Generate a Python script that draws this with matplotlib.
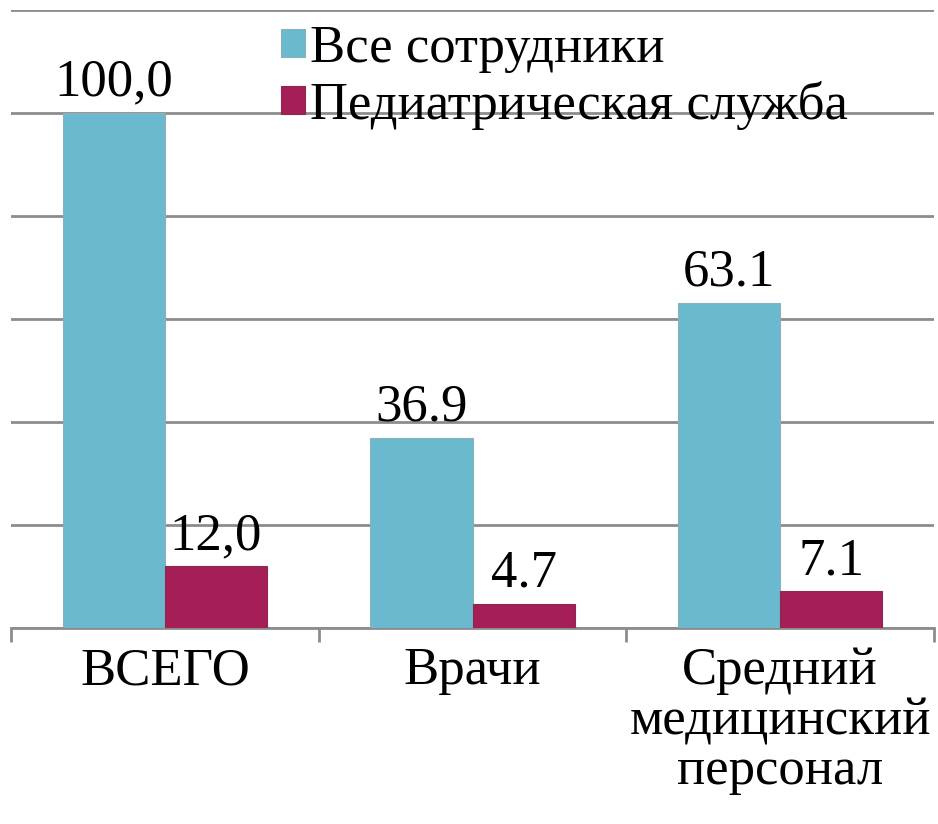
import os
import matplotlib
matplotlib.use("Agg")
import matplotlib.pyplot as plt
from matplotlib.font_manager import FontProperties
import numpy as np

categories = ["ВСЕГО", "Врачи", "Средний\nмедицинский\nперсонал"]
series_names = ["Все сотрудники", "Педиатрическая служба"]
all_staff = [100.0, 36.9, 63.1]
pediatric = [12.0, 4.7, 7.1]
all_labels = ["100,0", "36.9", "63.1"]
ped_labels = ["12,0", "4.7", "7.1"]
colors = ["#6BB9CE", "#A51E55"]

FPATH = "/usr/share/fonts/truetype/liberation/LiberationSerif-Regular.ttf"
def fp(size):
    if os.path.exists(FPATH):
        return FontProperties(fname=FPATH, size=size)
    return FontProperties(family="Liberation Serif", size=size)

fig = plt.figure(figsize=(9.38, 8.24), dpi=100)
ax = fig.add_axes([11/938, 1-628/824, 923/938, 618/824])

x = np.arange(len(categories))
w = 0.332
b1 = ax.bar(x - w/2, all_staff, w, color=colors[0], edgecolor="#8FAFB8", linewidth=0.8, label=series_names[0], zorder=3)
b2 = ax.bar(x + w/2, pediatric, w, color=colors[1], edgecolor="#8A2A50", linewidth=0.8, label=series_names[1], zorder=3)

for bars, labs in ((b1, all_labels), (b2, ped_labels)):
    for rect, lab in zip(bars, labs):
        ax.text(rect.get_x() + rect.get_width()/2, rect.get_height() + 1.2, lab,
                ha="center", va="bottom", color="black", zorder=4, fontproperties=fp(38))

ax.set_xlim(-0.5, 2.5)
ax.set_ylim(0, 120)
ax.set_yticks(np.arange(0, 121, 20))
ax.yaxis.grid(True, color="#8C8C8C", linewidth=2, zorder=0)
ax.set_axisbelow(True)
ax.tick_params(axis="y", left=False, labelleft=False)
for s in ["top", "right", "left"]:
    ax.spines[s].set_visible(False)
ax.spines["bottom"].set_color("#8C8C8C")
ax.spines["bottom"].set_linewidth(2)

ax.set_xticks([-0.5, 0.5, 1.5, 2.5])
ax.set_xticklabels([])
ax.tick_params(axis="x", length=10, width=2, color="#8C8C8C", direction="out")
ax.set_xticks(x, minor=True)
ax.set_xticklabels(categories, minor=True, fontproperties=fp(38), linespacing=1.05)
ax.tick_params(axis="x", which="minor", length=0, pad=14)

leg = ax.legend(loc="upper left", bbox_to_anchor=(0.27, 1.01), frameon=False,
                prop=fp(38),
                handlelength=0.45, handleheight=0.45, handletextpad=0.1,
                labelspacing=0.15, borderaxespad=0)

fig.savefig("out.png", dpi=100)
